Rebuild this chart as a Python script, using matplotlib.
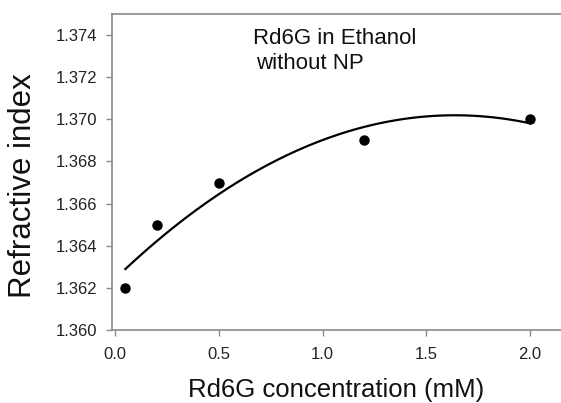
import matplotlib
matplotlib.use("Agg")
import matplotlib.pyplot as plt
import numpy as np

# 数据：Rd6G 在乙醇中（无纳米颗粒）的折射率
conc = [0.05, 0.2, 0.5, 1.2, 2.0]
n_index = [1.362, 1.365, 1.367, 1.369, 1.370]
xticks = [0.0, 0.5, 1.0, 1.5, 2.0]
yticks = [1.360, 1.362, 1.364, 1.366, 1.368, 1.370, 1.372, 1.374]

plt.rcParams['font.family'] = ['Liberation Sans', 'DejaVu Sans']

fig = plt.figure(figsize=(5.61, 4.03), dpi=100)
ax = fig.add_axes([112 / 561, 1 - 330 / 403, 449 / 561, 316 / 403])

# 二次拟合曲线
coef = np.polyfit(conc, n_index, 2)
xfit = np.linspace(min(conc), max(conc), 200)
ax.plot(xfit, np.polyval(coef, xfit), color='black', lw=1.6)

ax.plot(conc, n_index, 'o', color='black', ms=6.5)

ax.set_xlim(-0.0145, 2.149)
ax.set_ylim(1.360, 1.375)
ax.set_xticks(xticks)
ax.set_xticklabels([f'{v:.1f}' for v in xticks])
ax.set_yticks(yticks)
ax.set_yticklabels([f'{v:.3f}' for v in yticks])

gray = '#8a8a8a'
for side in ['left', 'bottom', 'top']:
    ax.spines[side].set_color(gray)
    ax.spines[side].set_linewidth(1.2)
ax.spines['right'].set_visible(False)
ax.tick_params(direction='out', length=4.5, width=1, color=gray,
               labelsize=12, labelcolor='#222222', pad=6)
ax.tick_params(axis='x', pad=8)

ax.set_xlabel('Rd6G concentration (mM)', fontsize=18.5, color='#111111', labelpad=11)
ax.set_ylabel('Refractive index', fontsize=22.5, color='#111111')
ax.yaxis.set_label_coords(-0.165, 0.457)

ax.text(0.314, 0.905, 'Rd6G in Ethanol', transform=ax.transAxes,
        fontsize=16, va='baseline', ha='left', color='#111111')
ax.text(0.321, 0.826, 'without NP', transform=ax.transAxes,
        fontsize=16, va='baseline', ha='left', color='#111111')

fig.savefig('out.png', dpi=100)
